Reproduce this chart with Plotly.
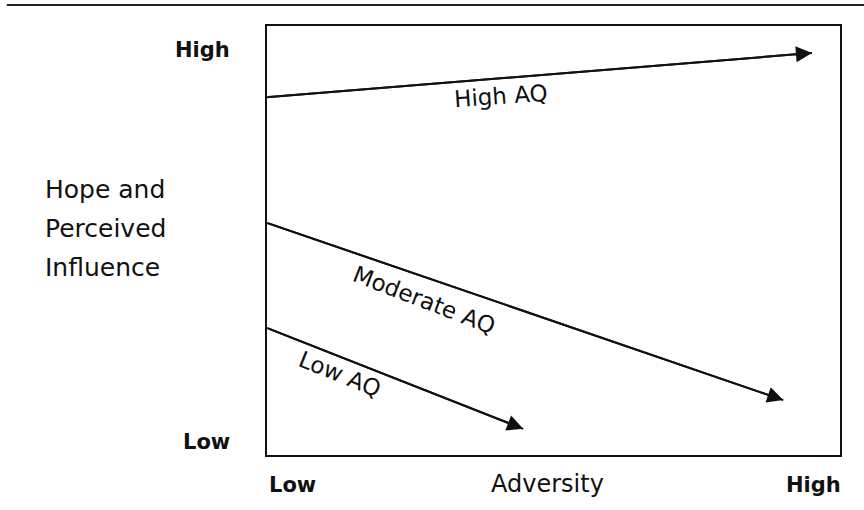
import plotly.graph_objects as go

# ---- data ----
line_names = ["High AQ", "Moderate AQ", "Low AQ"]
start_x = [0, 0, 0]
start_y = [83.4, 54.1, 29.6]
end_x = [95.1, 90.1, 44.7]
end_y = [93.7, 12.8, 6.1]
label_x = [40.8, 27.4, 12.7]
label_y = [83.7, 36.1, 18.9]
label_angle = [-4, 21, 22]

y_tick_labels = ["High", "Low"]
y_tick_vals = [94.4, 3.0]
x_tick_labels = ["Low", "High"]
x_title = "Adversity"
y_title_lines = ["Hope and", "Perceived", "Influence"]
y_title_vals = [61.8, 52.7, 43.8]

INK = "#111111"
FONT = "DejaVu Sans"

fig = go.Figure()

for i, name in enumerate(line_names):
    fig.add_trace(go.Scatter(
        x=[start_x[i], end_x[i]], y=[start_y[i], end_y[i]],
        mode="lines", line=dict(color=INK, width=2),
        name=name, showlegend=False, hoverinfo="skip"))
    # arrowhead
    fig.add_annotation(
        x=end_x[i], y=end_y[i], ax=start_x[i], ay=start_y[i],
        xref="x", yref="y", axref="x", ayref="y",
        text="", showarrow=True, arrowhead=2, arrowsize=1.6,
        arrowwidth=2, arrowcolor=INK, standoff=0, startstandoff=0)
    # label
    fig.add_annotation(
        x=label_x[i], y=label_y[i], xref="x", yref="y",
        text=name, showarrow=False, textangle=label_angle[i],
        font=dict(family=FONT, size=23, color=INK))

# y tick labels
for lab, v in zip(y_tick_labels, y_tick_vals):
    fig.add_annotation(
        x=0, y=v, xref="paper", yref="y", xanchor="right", yanchor="middle",
        xshift=-35, text=f"<b>{lab}</b>", showarrow=False,
        font=dict(family=FONT, size=21, color=INK))

# x tick labels
fig.add_annotation(x=0, y=0, xref="paper", yref="paper", xanchor="left",
                   yanchor="middle", yshift=-30, text=f"<b>{x_tick_labels[0]}</b>",
                   showarrow=False, font=dict(family=FONT, size=21, color=INK))
fig.add_annotation(x=1, y=0, xref="paper", yref="paper", xanchor="right",
                   yanchor="middle", yshift=-30, xshift=3, text=f"<b>{x_tick_labels[1]}</b>",
                   showarrow=False, font=dict(family=FONT, size=21, color=INK))
# x title
fig.add_annotation(x=49, y=0, xref="x", yref="paper", xanchor="center",
                   yanchor="middle", yshift=-29, text=x_title,
                   showarrow=False, font=dict(family=FONT, size=24, color=INK))
# y title lines
for t, v in zip(y_title_lines, y_title_vals):
    fig.add_annotation(x=-0.391, y=v, xref="paper", yref="y", xanchor="left",
                       yanchor="middle", text=t, showarrow=False,
                       font=dict(family=FONT, size=25, color=INK))

# top rule
fig.add_shape(type="line", xref="paper", yref="paper",
              x0=-0.454, x1=1.05, y0=1.049, y1=1.049,
              line=dict(color="#222222", width=2))

axis_common = dict(range=[0, 100], showgrid=False, zeroline=False,
                   showticklabels=False, ticks="", showline=True,
                   linecolor=INK, linewidth=2, mirror=True, fixedrange=True)

fig.update_layout(
    width=864, height=510,
    margin=dict(l=267, r=24, t=26, b=55),
    paper_bgcolor="white", plot_bgcolor="white",
    xaxis=axis_common, yaxis=axis_common,
    showlegend=False,
)

fig.write_html("out.html", post_script="document.body.style.margin='0';",
               config={"displayModeBar": False})
